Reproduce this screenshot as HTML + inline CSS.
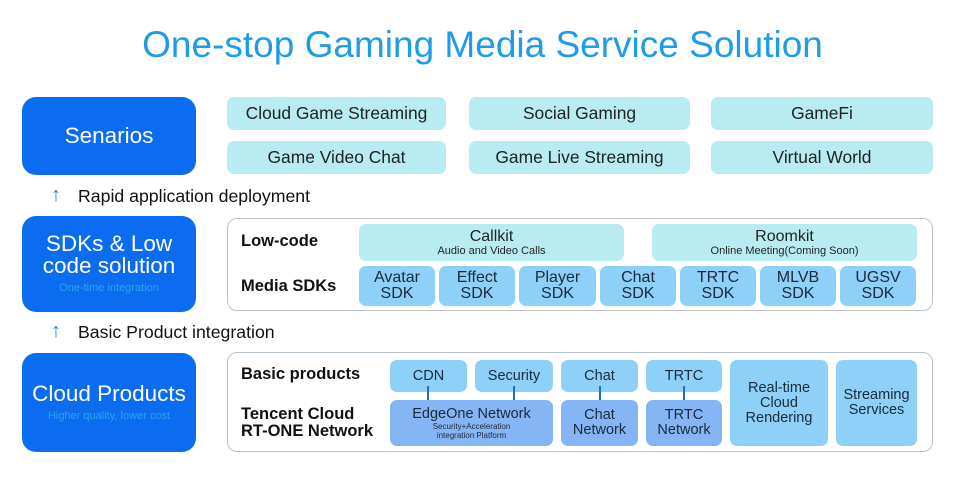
<!DOCTYPE html>
<html><head><meta charset="utf-8"><style>
*{margin:0;padding:0;box-sizing:border-box}
body{width:965px;height:478px;background:#fff;font-family:"Liberation Sans",Arial,sans-serif;position:relative;overflow:hidden;color:#111}
.a{position:absolute}
.c{position:absolute;display:flex;flex-direction:column;align-items:center;justify-content:center;text-align:center}
.big{background:#0b6cf0;color:#fff;border-radius:14px;font-size:22.5px;line-height:22px}
.big small{font-size:11px;color:#2aa3f0;line-height:14px;margin-top:4px}
.t{background:#b8ecf2;border-radius:7px;font-size:17.4px;color:#222}
.p{border:1px solid #b9c3cc;border-radius:10px}
.s{background:#8ed0f8;border-radius:7px;font-size:16px;line-height:16px;color:#1a2a3a}
.n{background:#86b5f5;border-radius:7px;font-size:15px;line-height:15px;color:#1a2a3a}
.lb{font-size:16.5px;font-weight:bold;line-height:17px}
.ar{color:#1a7fe0;font-size:20px;font-weight:bold}
.up{position:absolute;width:2px;background:#1a70d0}
</style></head><body>
<div class="a" style="left:0;width:965px;top:24px;text-align:center;font-size:37px;color:#1e9be9">One-stop Gaming Media Service Solution</div>

<div class="c big" style="left:22px;top:97px;width:174px;height:78px">Senarios</div>
<div class="c t" style="left:227px;top:97px;width:219px;height:33px">Cloud Game Streaming</div>
<div class="c t" style="left:469px;top:97px;width:221px;height:33px">Social Gaming</div>
<div class="c t" style="left:711px;top:97px;width:222px;height:33px">GameFi</div>
<div class="c t" style="left:227px;top:141px;width:219px;height:33px">Game Video Chat</div>
<div class="c t" style="left:469px;top:141px;width:221px;height:33px">Game Live Streaming</div>
<div class="c t" style="left:711px;top:141px;width:222px;height:33px">Virtual World</div>

<div class="a ar" style="left:51px;top:184px">↑</div>
<div class="a" style="left:78px;top:186px;font-size:17.7px">Rapid application deployment</div>

<div class="c big" style="left:22px;top:216px;width:174px;height:96px">SDKs &amp; Low<br>code solution<small>One-time integration</small></div>
<div class="a p" style="left:227px;top:218px;width:706px;height:93px"></div>
<div class="a lb" style="left:241px;top:233px">Low-code</div>
<div class="a lb" style="left:241px;top:278px">Media SDKs</div>
<div class="c t" style="left:359px;top:224px;width:265px;height:37px;font-size:16px;line-height:17px">Callkit<span style="font-size:11px;line-height:12px">Audio and Video Calls</span></div>
<div class="c t" style="left:652px;top:224px;width:265px;height:37px;font-size:16px;line-height:17px">Roomkit<span style="font-size:11px;line-height:12px">Online Meeting(Coming Soon)</span></div>
<div class="c s" style="left:359px;top:266px;width:76px;height:40px">Avatar<br>SDK</div>
<div class="c s" style="left:439px;top:266px;width:76px;height:40px">Effect<br>SDK</div>
<div class="c s" style="left:519px;top:266px;width:77px;height:40px">Player<br>SDK</div>
<div class="c s" style="left:600px;top:266px;width:76px;height:40px">Chat<br>SDK</div>
<div class="c s" style="left:680px;top:266px;width:76px;height:40px">TRTC<br>SDK</div>
<div class="c s" style="left:760px;top:266px;width:76px;height:40px">MLVB<br>SDK</div>
<div class="c s" style="left:840px;top:266px;width:76px;height:40px">UGSV<br>SDK</div>

<div class="a ar" style="left:51px;top:320px">↑</div>
<div class="a" style="left:78px;top:322px;font-size:17.7px">Basic Product integration</div>

<div class="c big" style="left:22px;top:353px;width:174px;height:99px">Cloud Products<small>Higher quality, lower cost</small></div>
<div class="a p" style="left:227px;top:352px;width:706px;height:100px"></div>
<div class="a lb" style="left:241px;top:366px">Basic products</div>
<div class="a lb" style="left:241px;top:406px;line-height:17px">Tencent Cloud<br>RT-ONE Network</div>
<div class="c s" style="left:390px;top:360px;width:77px;height:32px;font-size:14.5px">CDN</div>
<div class="c s" style="left:475px;top:360px;width:78px;height:32px;font-size:14.5px">Security</div>
<div class="c s" style="left:561px;top:360px;width:77px;height:32px;font-size:14.5px">Chat</div>
<div class="c s" style="left:646px;top:360px;width:76px;height:32px;font-size:14.5px">TRTC</div>
<div class="c s" style="left:730px;top:360px;width:98px;height:86px;font-size:14.5px;line-height:15px">Real-time<br>Cloud<br>Rendering</div>
<div class="c s" style="left:836px;top:360px;width:81px;height:86px;font-size:14.5px;line-height:15px">Streaming<br>Services</div>
<div class="c n" style="left:390px;top:400px;width:163px;height:46px;font-size:14.5px">EdgeOne Network<span style="font-size:8px;line-height:9px">Security+Acceleration<br>integration Platform</span></div>
<div class="c n" style="left:561px;top:400px;width:77px;height:46px;font-size:14.5px">Chat<br>Network</div>
<div class="c n" style="left:646px;top:400px;width:76px;height:46px;font-size:14.5px">TRTC<br>Network</div>
<div class="up" style="left:427px;top:386px;height:14px"></div>
<div class="up" style="left:513px;top:386px;height:14px"></div>
<div class="up" style="left:599px;top:386px;height:14px"></div>
<div class="up" style="left:683px;top:386px;height:14px"></div>
</body></html>
